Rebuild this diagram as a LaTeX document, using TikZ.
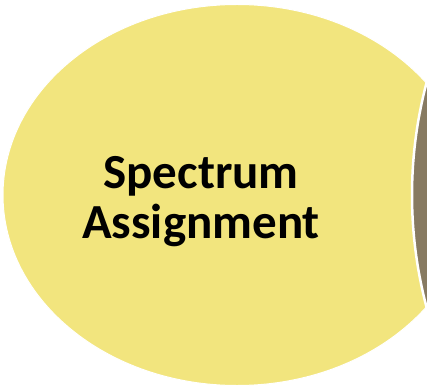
\documentclass[tikz,border=0pt]{standalone}
\usepackage{fontspec}
\setmainfont{Carlito}
\usepackage{xcolor}
\usetikzlibrary{shapes.geometric}

\definecolor{specyellow}{HTML}{F2E57E}
\definecolor{nextbrown}{HTML}{877A61}

\begin{document}
\begin{tikzpicture}[
    x=1pt, y=-1pt,
    petal/.style={ellipse, fill=specyellow, draw=white, line width=1pt,
                  inner sep=0pt},
    rim/.style={circle, fill=nextbrown, draw=white, line width=2.5pt,
                inner sep=0pt},
    title/.style={font=\fontsize{49}{50}\selectfont\bfseries, align=center,
                  text=black}
]
\useasboundingbox (0,0) rectangle (427,387);
\clip (0,0) rectangle (427,387);

\node[petal, minimum width=468pt, minimum height=381pt] (assign) at (237,195) {};
\node[rim, minimum size=874pt] (next) at (849,195) {};

\node[title] (label) at (201,202) {Spectrum\\Assignment};
\end{tikzpicture}
\end{document}
